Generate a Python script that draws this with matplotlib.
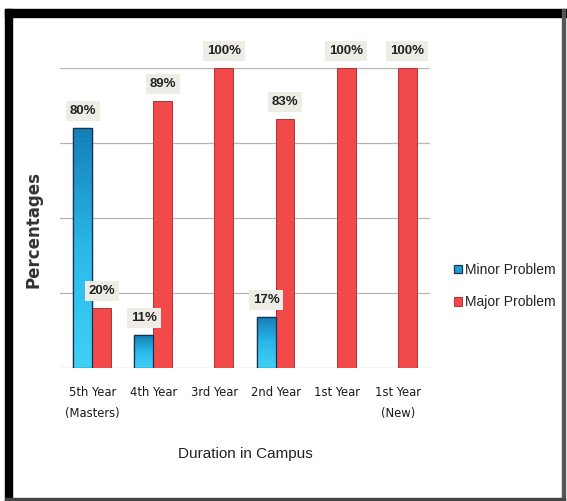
import numpy as np
import matplotlib
matplotlib.use('Agg')
import matplotlib.pyplot as plt
from matplotlib.patches import Rectangle
from matplotlib.colors import LinearSegmentedColormap


years = ['5th Year\n(Masters)', '4th Year', '3rd Year', '2nd Year', '1st Year', '1st Year\n(New)']
minor = [80, 11, 0, 17, 0, 0]
major = [20, 89, 100, 83, 100, 100]

blue = '#1f9fd6'
red = '#f24a4a'

fig = plt.figure(figsize=(5.67, 5.01), dpi=100)
ax = fig.add_axes([60/567, 1 - 368/501, 370/567, 300/501])

x = np.arange(len(years))
w = 0.31

b1 = ax.bar(x - w/2, minor, w, color=blue, edgecolor='#16324f',
            linewidth=[0.9 if v > 0 else 0 for v in minor],
            label='Minor Problem', zorder=3)
b2 = ax.bar(x + w/2, major, w, color=red, edgecolor='#b33232',
            linewidth=[0.7 if v > 0 else 0 for v in major],
            label='Major Problem', zorder=3)

# shaded fill for the blue bars, darker at the top
grad = LinearSegmentedColormap.from_list('g', ['#1580b8', '#2bb8ea', '#40d0f5'])
for r in b1:
    if r.get_height() <= 0:
        continue
    x0, y0 = r.get_x(), r.get_y()
    img = ax.imshow(np.linspace(0, 1, 50).reshape(-1, 1), cmap=grad, aspect='auto',
                    extent=(x0, x0 + r.get_width(), y0, r.get_height()),
                    origin='upper', zorder=3.5)
    img.set_clip_path(r)
    edge = Rectangle((x0, y0), r.get_width(), r.get_height(), fill=False,
                     edgecolor='#16324f', linewidth=0.9, zorder=4)
    ax.add_patch(edge)

box = dict(boxstyle='square,pad=0.3', fc='#edece5', ec='none')
for bars, vals in ((b1, minor), (b2, major)):
    for r, v in zip(bars, vals):
        if v <= 0:
            continue
        ax.annotate('{}%'.format(v), (r.get_x() + r.get_width()/2, v),
                    xytext=(0, 12.5), textcoords='offset points',
                    ha='center', va='center', fontsize=9.5, fontweight='bold',
                    family='Liberation Sans', color='#222222', bbox=box,
                    annotation_clip=False, zorder=5)

ax.set_xlim(-0.53, 5.53)
ax.set_ylim(0, 100)
ax.set_yticks([0, 25, 50, 75, 100])
ax.set_yticklabels([])
ax.tick_params(axis='y', length=0)
ax.tick_params(axis='x', length=0, pad=13)
ax.yaxis.grid(True, color='#b5b5b5', linewidth=0.9, zorder=0)
ax.set_axisbelow(True)
for s in ax.spines.values():
    s.set_visible(False)

ax.set_xticks(x)
ax.set_xticklabels(years, family='DejaVu Sans', stretch='condensed',
                   fontsize=9.3, color='#1a1a1a', linespacing=1.75)

ax.set_xlabel('Duration in Campus', family='Liberation Sans', fontsize=11,
              color='#222222', labelpad=20)
ax.set_ylabel('Percentages', family='DejaVu Sans', fontsize=12, fontweight='bold',
              color='#333333')
ax.yaxis.set_label_coords(-0.048, 0.46)

leg = ax.legend(loc='center left', bbox_to_anchor=(441/567, 1 - 286/501),
                bbox_transform=fig.transFigure, frameon=False,
                handlelength=0.6, handleheight=0.6, handletextpad=0.25,
                labelspacing=1.3, prop={'family': 'Liberation Sans', 'size': 10})
for t in leg.get_texts():
    t.set_color('#222222')

# page frame
fig.patches.append(Rectangle((5/567, 0), 7/567, 1 - 9/501, transform=fig.transFigure,
                             color='black', zorder=10))
fig.patches.append(Rectangle((5/567, 1 - 17/501), 562/567, 8/501, transform=fig.transFigure,
                             color='black', zorder=10))
fig.patches.append(Rectangle((562/567, 0), 3/567, 1 - 9/501, transform=fig.transFigure,
                             color='#555555', zorder=10))
fig.patches.append(Rectangle((5/567, 0), 560/567, 3/501, transform=fig.transFigure,
                             color='#444444', zorder=10))

fig.savefig('out.png', dpi=100)
